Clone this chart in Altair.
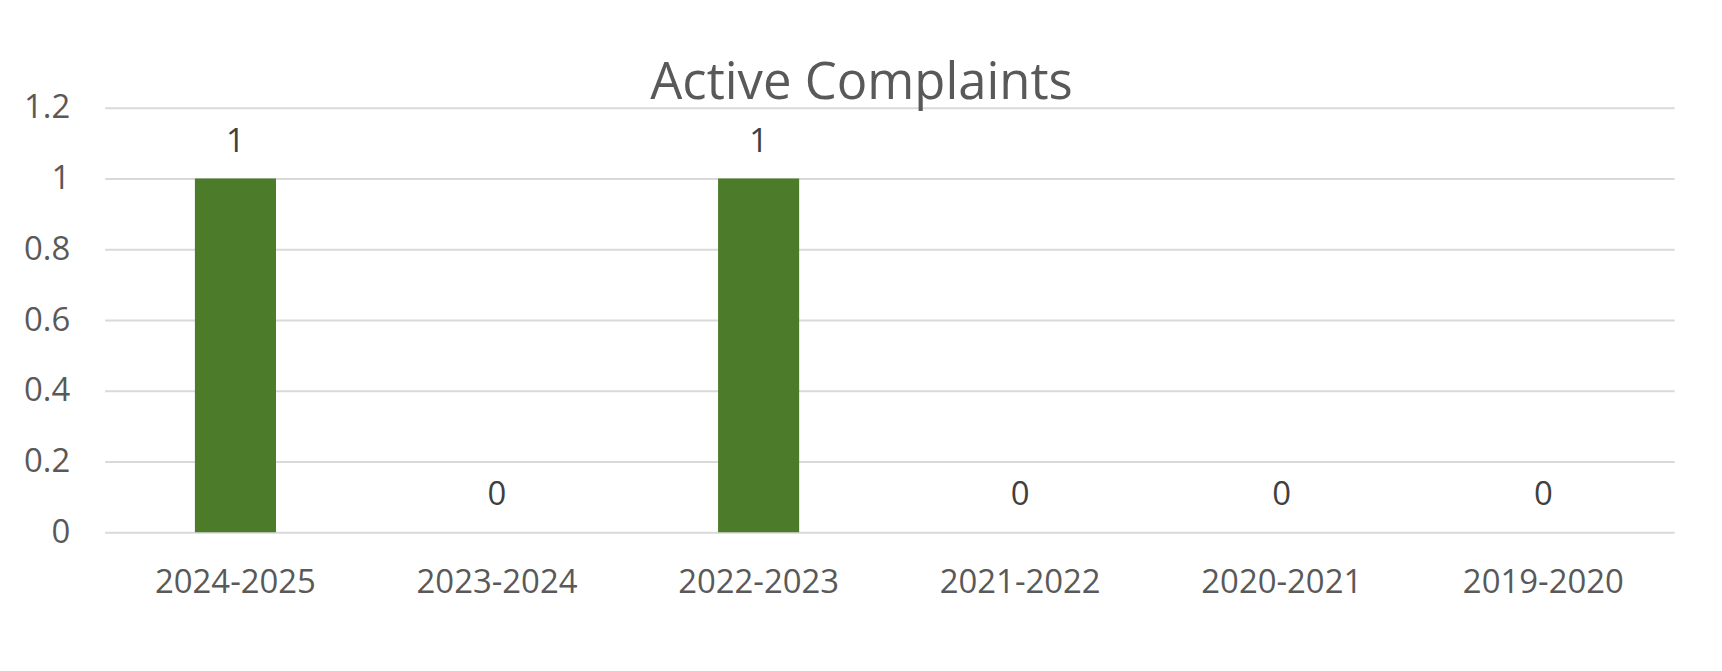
import altair as alt
import pandas as pd

# Chart data
seasons = ["2024-2025", "2023-2024", "2022-2023", "2021-2022", "2020-2021", "2019-2020"]
complaints = [1, 0, 1, 0, 0, 0]
y_ticks = [0, 0.2, 0.4, 0.6, 0.8, 1.0, 1.2]

FONT = "Open Sans"
BAR_GREEN = "#4C7C2A"
GRID_GREY = "#D9D9D9"
AXIS_TEXT = "#595959"
LABEL_TEXT = "#404040"

df = pd.DataFrame({"season": seasons, "complaints": complaints})

base = alt.Chart(df).encode(
    x=alt.X(
        "season:N",
        sort=seasons,
        title=None,
        scale=alt.Scale(paddingInner=0.69, paddingOuter=0.345),
        axis=alt.Axis(
            labelAngle=0,
            labelFont=FONT,
            labelFontSize=33,
            labelColor=AXIS_TEXT,
            labelPadding=34,
            ticks=False,
            domain=False,
            grid=False,
        ),
    ),
    y=alt.Y(
        "complaints:Q",
        title=None,
        scale=alt.Scale(domain=[0, 1.2], nice=False),
        axis=alt.Axis(
            values=y_ticks,
            format=".1~f",
            labelFont=FONT,
            labelFontSize=33,
            labelColor=AXIS_TEXT,
            labelPadding=35,
            ticks=False,
            domain=False,
            gridColor=GRID_GREY,
            gridWidth=2,
        ),
    ),
)

bars = base.mark_bar(color=BAR_GREEN)

labels = base.mark_text(
    font=FONT,
    fontSize=33,
    color=LABEL_TEXT,
    baseline="alphabetic",
    dy=-27,
).encode(text=alt.Text("complaints:Q", format="d"))

chart = (
    alt.layer(bars, labels)
    .properties(
        width=1575,
        height=426,
        background="white",
        title=alt.TitleParams(
            "Active Complaints",
            font=FONT,
            fontSize=51,
            fontWeight="normal",
            color=AXIS_TEXT,
            anchor="middle",
            dx=-28,
            dy=22,
        ),
        autosize=alt.AutoSizeParams(type="none"),
        padding={"left": 97, "top": 99, "right": 40, "bottom": 130},
    )
    .configure_view(stroke=None)
)

chart.save("out.html", embed_options={"renderer": "svg", "actions": False})
